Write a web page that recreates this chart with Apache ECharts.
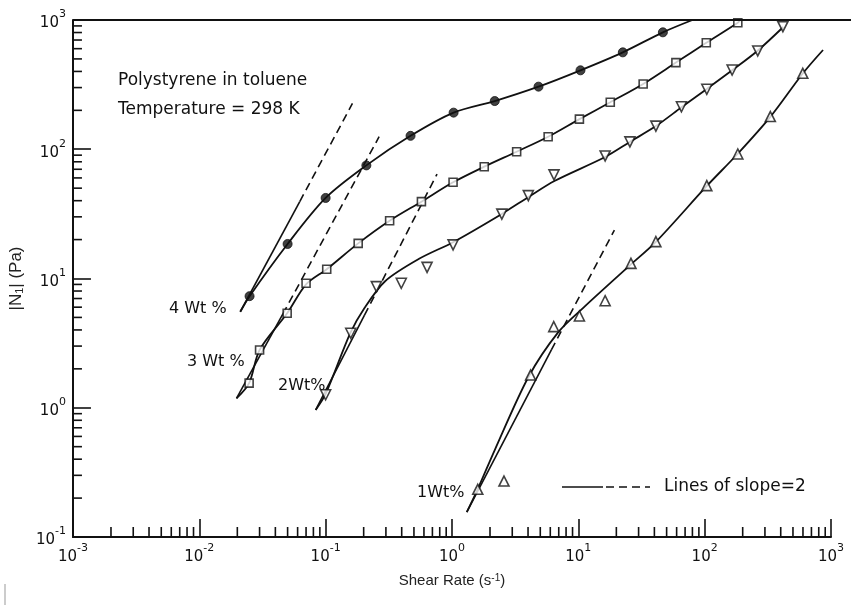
<!DOCTYPE html>
<html>
<head>
<meta charset="utf-8">
<script src="https://cdn.jsdelivr.net/npm/echarts@6/dist/echarts.min.js"></script>
<style>
  html, body { margin: 0; padding: 0; background: #fff; }
  #chart { width: 851px; height: 607px; }
</style>
</head>
<body>
<div id="chart"></div>
<script>
// First normal stress difference |N1| vs shear rate, polystyrene in toluene, 298 K

// Axis ranges (decades)
const xRange = [0.001, 1000];
const yRange = [0.1, 1000];

// 4 Wt % (filled circles)
const w4X = [0.025, 0.05, 0.1, 0.21, 0.47, 1.03, 2.18, 4.84, 10.4, 22.5, 46.7];
const w4Y = [7.3, 18.5, 42, 75, 127, 192, 236, 305, 408, 562, 803];
// 3 Wt % (open squares)
const w3X = [0.0248, 0.030, 0.0496, 0.070, 0.102, 0.181, 0.321, 0.573, 1.02, 1.80, 3.25, 5.77, 10.2, 17.9, 32.6, 59.2, 103, 183];
const w3Y = [1.55, 2.80, 5.38, 9.18, 11.8, 18.7, 28.0, 39.3, 55.5, 73.3, 95.7, 125, 171, 231, 320, 468, 667, 953];
// 2 Wt % (inverted triangles)
const w2X = [0.1, 0.158, 0.252, 0.397, 0.635, 1.02, 2.48, 4.02, 6.42, 16.3, 25.6, 41.1, 65.5, 104, 165, 263, 416];
const w2Y = [1.26, 3.77, 8.65, 9.18, 12.2, 18.2, 31.5, 43.8, 63.3, 88.7, 114, 151, 213, 291, 410, 576, 887];
// 1 Wt % (triangles)
const w1X = [1.60, 2.58, 4.19, 6.39, 10.2, 16.3, 26.1, 41.1, 104, 183, 331, 598];
const w1Y = [0.234, 0.271, 1.79, 4.24, 5.13, 6.73, 13.1, 19.3, 52.3, 91.9, 179, 387];

// Hand-drawn fit curves through each data set
const fit4X = [0.0211, 0.025, 0.05, 0.1, 0.21, 0.47, 1.03, 2.18, 4.84, 10.4, 22.5, 46.7, 80];
const fit4Y = [5.53, 7.3, 18.5, 42, 75, 127, 192, 236, 305, 408, 562, 803, 1000];
const fit3X = [0.0197, 0.0248, 0.030, 0.0496, 0.070, 0.102, 0.181, 0.321, 0.573, 1.02, 1.80, 3.25, 5.77, 10.2, 17.9, 32.6, 59.2, 103, 183, 192];
const fit3Y = [1.18, 1.55, 2.80, 5.38, 9.0, 11.8, 18.7, 28.0, 39.3, 55.5, 73.3, 95.7, 125, 171, 231, 320, 468, 667, 953, 1000];
const fit2X = [0.0834, 0.1, 0.157, 0.203, 0.297, 0.549, 1.02, 2.48, 4.03, 6.47, 16.3, 25.6, 41.1, 65.9, 104, 166, 261, 419];
const fit2Y = [0.962, 1.28, 3.79, 5.91, 9.57, 14.2, 19.1, 31.6, 42.7, 56.8, 87.1, 114, 151, 212, 293, 410, 576, 883];
const fit1X = [1.31, 1.60, 2.18, 4.03, 6.97, 11.1, 24.8, 41.1, 104, 182, 331, 602, 865];
const fit1Y = [0.156, 0.235, 0.471, 1.73, 3.86, 6.01, 12.3, 19.2, 52.0, 91.9, 178, 389, 586];

// Lines of slope 2: start, end of solid part, end of dashed part
const slope4X = [0.0211, 0.0624, 0.163];
const slope4Y = [5.53, 39.4, 226];
const slope3X = [0.0197, 0.0458, 0.265];
const slope3Y = [1.18, 5.3, 125];
const slope2X = [0.0834, 0.203, 0.762];
const slope2Y = [0.962, 5.2, 64.3];
const slope1X = [1.31, 6.12, 19.3];
const slope1Y = [0.156, 2.80, 23.7];

// Minor tick multipliers inside each decade
const minorSteps = [2, 3, 4, 5, 6, 7, 8, 9];

const INK = '#111';
const zip = (xs, ys) => xs.map((x, i) => [x, ys[i]]);

function minorValues(range) {
  const out = [];
  for (let d = range[0]; d < range[1]; d *= 10) {
    minorSteps.forEach(m => out.push(+(m * d).toPrecision(6)));
  }
  return out;
}

function tickSeries(values, dir) {
  return {
    type: 'custom',
    silent: true,
    clip: false,
    z: 4,
    data: values.map(v => dir === 'x' ? [v, yRange[0]] : [xRange[0], v]),
    renderItem: (params, api) => {
      const p = api.coord([api.value(0), api.value(1)]);
      const len = dir === 'x' ? 10 : 9;
      return {
        type: 'line',
        shape: dir === 'x'
          ? { x1: p[0], y1: p[1], x2: p[0], y2: p[1] - len }
          : { x1: p[0], y1: p[1], x2: p[0] + len, y2: p[1] },
        style: { stroke: INK, lineWidth: 1.6 }
      };
    }
  };
}

function curve(xs, ys) {
  return {
    type: 'line', data: zip(xs, ys), showSymbol: false, symbol: 'none',
    smooth: 0.3, silent: true, z: 3,
    lineStyle: { color: INK, width: 1.8 }
  };
}

function slopeLine(xs, ys) {
  return [
    { type: 'line', data: zip(xs.slice(0, 2), ys.slice(0, 2)), symbol: 'none', silent: true, z: 3,
      lineStyle: { color: INK, width: 1.6 } },
    { type: 'line', data: zip(xs.slice(1), ys.slice(1)), symbol: 'none', silent: true, z: 3,
      lineStyle: { color: INK, width: 1.6, type: [8, 5] } }
  ];
}

function markers(xs, ys, symbol, filled, size, rotate) {
  return {
    type: 'scatter', data: zip(xs, ys), symbol: symbol, symbolSize: size,
    symbolRotate: rotate || 0, z: 6, silent: true,
    itemStyle: filled
      ? { color: INK, borderColor: INK, borderWidth: 1 }
      : { color: '#fff', borderColor: INK, borderWidth: 1.6 }
  };
}

const powLabel = {
  formatter: v => '{b|10}{s|' + Math.round(Math.log10(v)) + '}',
  rich: {
    b: { fontSize: 15, fontFamily: 'DejaVu Sans', color: INK, verticalAlign: 'bottom', lineHeight: 22 },
    s: { fontSize: 11, fontFamily: 'DejaVu Sans', color: INK, verticalAlign: 'top', lineHeight: 11 }
  }
};

const chart = echarts.init(document.getElementById('chart'), null, { renderer: 'canvas' });

const TXT = '"DejaVu Sans", sans-serif';
function label(x, y, text, size) {
  return { type: 'text', x: x, y: y, silent: true, z: 10,
    style: { text: text, font: (size || 15) + 'px ' + TXT, fill: INK, verticalAlign: 'middle' } };
}

chart.setOption({
  animation: false,
  backgroundColor: '#fff',
  grid: { left: 69, right: 20, top: 20, bottom: 70 },
  xAxis: {
    type: 'log', logBase: 10, min: xRange[0], max: xRange[1], splitNumber: 6,
    axisLine: { lineStyle: { color: INK, width: 2 } },
    axisTick: { inside: true, length: 18, lineStyle: { color: INK, width: 1.6 } },
    splitLine: { show: false },
    axisLabel: Object.assign({ margin: 6 }, powLabel),
    name: 'Shear Rate (s{s|-1})',
    nameLocation: 'middle', nameGap: 36,
    nameTextStyle: {
      fontSize: 15, fontFamily: 'Liberation Sans', color: '#222',
      rich: { s: { fontSize: 10, fontFamily: 'Liberation Sans', color: '#222', verticalAlign: 'top', lineHeight: 10 } }
    }
  },
  yAxis: {
    type: 'log', logBase: 10, min: yRange[0], max: yRange[1], splitNumber: 4,
    axisLine: { lineStyle: { color: INK, width: 2 } },
    axisTick: { inside: true, length: 18, lineStyle: { color: INK, width: 1.6 } },
    splitLine: { show: false },
    axisLabel: Object.assign({ margin: 7 }, powLabel),
    name: '|N{sub|1}| (Pa)',
    nameLocation: 'middle', nameGap: 38, nameRotate: 90,
    nameTextStyle: {
      fontSize: 17, fontFamily: 'Liberation Sans', color: '#222',
      rich: { sub: { fontSize: 11, fontFamily: 'Liberation Sans', color: '#222', verticalAlign: 'bottom', lineHeight: 10 } }
    }
  },
  series: [
    tickSeries(minorValues(xRange), 'x'),
    tickSeries(minorValues(yRange), 'y'),
    curve(fit4X, fit4Y),
    curve(fit3X, fit3Y),
    curve(fit2X, fit2Y),
    curve(fit1X, fit1Y),
    ...slopeLine(slope4X, slope4Y),
    ...slopeLine(slope3X, slope3Y),
    ...slopeLine(slope2X, slope2Y),
    ...slopeLine(slope1X, slope1Y),
    markers(w4X, w4Y, 'circle', true, 9),
    markers(w3X, w3Y, 'rect', false, 8),
    markers(w2X, w2Y, 'triangle', false, 10, 180),
    markers(w1X, w1Y, 'triangle', false, 10)
  ]
});

// Frame top edge, annotations and the slope-line key
const topY = chart.convertToPixel({ gridIndex: 0 }, [xRange[0], yRange[1]]);
chart.setOption({
  graphic: [
    { type: 'line', silent: true, z: 9,
      shape: { x1: topY[0], y1: topY[1], x2: 851, y2: topY[1] },
      style: { stroke: INK, lineWidth: 2 } },
    label(118, 81, 'Polystyrene in toluene', 17),
    label(118, 110, 'Temperature = 298 K', 17),
    label(169, 309, '4 Wt %', 16),
    label(187, 362, '3 Wt %', 16),
    label(278, 386, '2Wt%', 16),
    label(417, 493, '1Wt%', 16),
    { type: 'line', silent: true, shape: { x1: 562, y1: 487, x2: 603, y2: 487 },
      style: { stroke: INK, lineWidth: 1.6 } },
    { type: 'line', silent: true, shape: { x1: 606, y1: 487, x2: 650, y2: 487 },
      style: { stroke: INK, lineWidth: 1.6, lineDash: [8, 5] } },
    label(664, 487, 'Lines of slope=2', 17),
    { type: 'line', silent: true, shape: { x1: 5, y1: 584, x2: 5, y2: 605 },
      style: { stroke: '#999', lineWidth: 1 } }
  ]
});
</script>
</body>
</html>
